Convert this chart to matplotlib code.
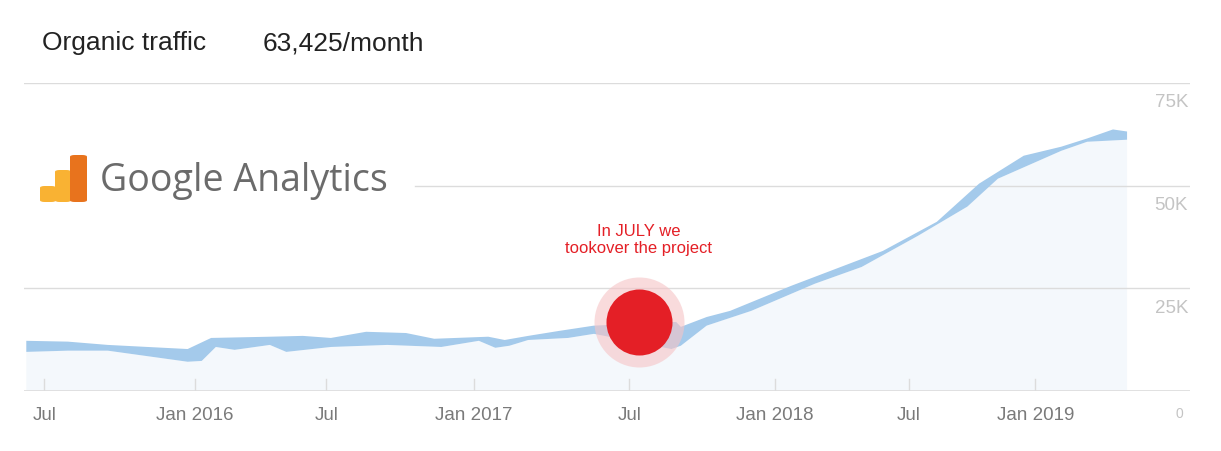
import matplotlib
matplotlib.use("Agg")
import matplotlib.pyplot as plt
from matplotlib.patches import FancyBboxPatch

plt.rcParams["font.family"] = ["Liberation Sans", "DejaVu Sans"]

# months since Jul 2015, traffic in thousands
upper_months = [-0.77, 1.0, 2.7, 6.1, 7.1, 9.6, 11.0, 12.2, 13.7, 15.4, 16.6, 18.9, 19.6,
                20.6, 21.9, 23.4, 26.9, 27.1, 28.2, 29.2, 31.8, 35.7, 38.0, 39.8, 41.7,
                43.3, 44.4, 45.5, 46.1]
upper_k = [12.2, 12.0, 11.2, 10.2, 12.9, 13.2, 13.4, 12.9, 14.4, 14.1, 12.7, 13.2, 12.4,
           13.4, 14.6, 15.9, 16.8, 15.6, 18.0, 19.5, 25.6, 34.1, 41.2, 50.5, 57.3,
           59.5, 61.5, 63.7, 63.2]
lower_months = [-0.77, 1.0, 2.7, 6.1, 6.7, 7.3, 8.1, 9.6, 10.3, 12.2, 14.6, 16.9, 18.5,
                19.2, 19.8, 20.6, 22.3, 23.4, 26.7, 27.1, 28.2, 30.1, 32.8, 34.8, 37.2,
                39.3, 40.6, 43.3, 44.4, 46.1]
lower_k = [9.5, 9.8, 9.8, 7.1, 7.3, 10.7, 10.0, 11.2, 9.5, 10.7, 11.2, 10.7, 12.2,
           10.5, 11.0, 12.4, 12.9, 13.9, 10.2, 11.0, 15.9, 19.5, 26.1, 30.2, 37.8,
           44.9, 51.7, 58.5, 60.7, 61.2]
tick_months = [0, 6.4, 12.0, 18.3, 24.9, 31.1, 36.8, 42.2]
tick_labels = ["Jul", "Jan 2016", "Jul", "Jan 2017", "Jul", "Jan 2018", "Jul", "Jan 2019"]
y_levels = [25, 50, 75]
y_labels = ["25K", "50K", "75K"]
takeover_month, takeover_k = 25.3, 16.8

BAND = "#a4caeb"
FILL = "#f4f8fc"
GRID = "#dcdcdc"
LABEL = "#7a7a7a"
RED = "#e41f26"

fig = plt.figure(figsize=(12.21, 4.52), dpi=100, facecolor="white")
ax = fig.add_axes([0.02, 0.133, 0.955, 0.681])
ax.set_xlim(-0.85, 48.8)
ax.set_ylim(0, 75)
for side in ax.spines.values():
    side.set_visible(False)
ax.set_xticks([])
ax.set_yticks([])

ax.fill(lower_months + [lower_months[-1], lower_months[0]],
        lower_k + [0, 0], color=FILL, lw=0, zorder=1)
ax.fill(upper_months + lower_months[::-1], upper_k + lower_k[::-1],
        color=BAND, lw=0, zorder=3)

ax.axhline(0, color=GRID, lw=1.2, zorder=2)
ax.axhline(25, color=GRID, lw=1, zorder=2)
ax.axhline(50, xmin=0.335, color=GRID, lw=1, zorder=2)
ax.axhline(75, color=GRID, lw=1, zorder=2)
for m, lab in zip(tick_months, tick_labels):
    ax.plot([m, m], [0, 3], color=GRID, lw=1, zorder=2)
    ax.text(m, -3.6, lab, ha="center", va="top", fontsize=13.5, color=LABEL)
for v, lab in zip(y_levels, y_labels):
    ax.text(48.7, v - 2.5, lab, ha="right", va="top", fontsize=13.5, color="#c4c4c4")
ax.text(48.5, -3.8, "0", ha="right", va="top", fontsize=10, color="#c4c4c4")

ax.scatter([takeover_month], [takeover_k], s=4200, color="#f6c4c6", alpha=0.6,
           lw=0, zorder=4)
ax.scatter([takeover_month], [takeover_k], s=2260, color=RED, lw=0, zorder=5)
ax.text(takeover_month, 33.0, "In JULY we\ntookover the project", ha="center",
        va="bottom", fontsize=12, color=RED, linespacing=1.2)

fig.text(42 / 1221, 1 - 43 / 452, "Organic traffic", fontsize=19, va="center",
         color="#222222")
fig.text(263 / 1221, 1 - 43 / 452, "63,425/month", fontsize=19, va="center",
         color="#222222")

# Google Analytics logo
W, H = 1221, 452
for x0, x1, y0, y1, col in [(40, 56, 187, 203, "#f9b233"), (55, 71, 171, 203, "#f9b233"),
                            (70, 87, 156, 203, "#e8731d")]:
    fig.patches.append(FancyBboxPatch((x0 / W, 1 - y1 / H), (x1 - x0) / W, (y1 - y0) / H,
                                      boxstyle="round,pad=0,rounding_size=0.004",
                                      transform=fig.transFigure, color=col, lw=0))
fig.text(100 / W, 1 - 181 / H, "Google Analytics", fontsize=27, va="center",
         color="#6b6b6b", family=["Open Sans", "DejaVu Sans"])

fig.savefig("out.png", dpi=100, facecolor="white")
